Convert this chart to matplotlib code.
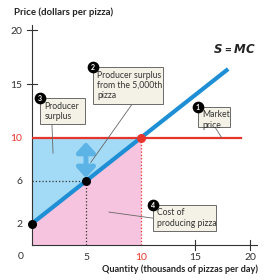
import matplotlib
matplotlib.use("Agg")
import matplotlib.pyplot as plt
import matplotlib.patches as mpatches
import numpy as np

# supply (marginal cost) curve
supply_q = [0, 5, 10, 18]
supply_p = [2, 6, 10, 16.4]
market_price = 10
market_q = 10
marked_q = 5
marked_p = 6

yticks = [2, 6, 15, 20]
xticks = [5, 15, 20]

plt.rcParams['font.family'] = ['Lato', 'DejaVu Sans']

fig = plt.figure(figsize=(2.73, 2.80), dpi=100)
ax = fig.add_axes([32 / 273, 35 / 280, 224.5 / 273, 220 / 280])
ax.set_xlim(0, 20.6)
ax.set_ylim(0, 20.5)

blue_fill = '#a3daf5'
pink_fill = '#f6c4de'
line_blue = '#1e8fd5'
red = '#e8352b'

# shaded areas up to the market quantity
qq = np.array([q for q in supply_q if q <= market_q])
pp = np.array(supply_p[:len(qq)])
ax.fill_between(qq, pp, market_price, color=blue_fill, lw=0, zorder=1)
ax.fill_between(qq, 0, pp, color=pink_fill, lw=0, zorder=1)

# dotted guides
ax.plot([0, marked_q], [marked_p, marked_p], ls=':', color='#333333', lw=0.9, zorder=2)
ax.plot([marked_q, marked_q], [0, marked_p], ls=':', color='#333333', lw=0.9, zorder=2)
ax.plot([market_q, market_q], [0, market_price], ls=':', color=red, lw=0.9, zorder=2)

# market price line
ax.plot([0, 19.2], [market_price, market_price], color=red, lw=1.6, zorder=3)

# supply curve
ax.plot(supply_q, supply_p, color=line_blue, lw=3, solid_capstyle='butt', zorder=4)
ax.text(18.6, 17.7, r'$\mathbfit{S}$ = $\mathbfit{MC}$', fontsize=8.5, fontweight='bold',
        ha='center', va='bottom', color='#222222')

# points
ax.scatter([supply_q[0], marked_q], [supply_p[0], marked_p], s=30, color='black', zorder=6, clip_on=False)
ax.scatter([market_q], [market_price], s=30, color=red, zorder=6)

# producer surplus arrow for the 5,000th pizza
ax.annotate('', xy=(4.95, 6.25), xytext=(4.95, 9.6),
            arrowprops=dict(arrowstyle='<|-|>,head_width=0.55,head_length=0.6',
                            lw=3.5, color='#5cb3e6', shrinkA=0, shrinkB=0), zorder=5)

# label boxes: (left, bottom, right, top, number, text, leader)
boxes = [
    (0.73, 11.26, 4.86, 13.67, '3', 'Producer\nsurplus', [(1.83, 11.26), (1.93, 8.56)]),
    (5.6, 13.1, 12.0, 16.56, '2', 'Producer surplus\nfrom the 5,000th\npizza', [(9.17, 13.1), (5.4, 7.7)]),
    (15.23, 10.98, 18.17, 12.84, '1', 'Market\nprice', [(16.8, 10.98), (17.4, 10.0)]),
    (11.1, 1.3, 16.9, 3.72, '4', 'Cost of\nproducing pizza', [(11.1, 2.5), (7.06, 3.07)]),
]
for left, bottom, right, top, num, txt, leader in boxes:
    (x0, y0), (x1, y1) = leader
    ax.plot([x0, x1], [y0, y1], color='#666666', lw=0.6, zorder=7)
    ax.add_patch(mpatches.Rectangle((left, bottom), right - left, top - bottom,
                                    facecolor='#f4f2e6', edgecolor='#6a6a6a', lw=0.7, zorder=8))
    ax.text(left + 0.4, top - 0.3, txt, fontsize=6.2, va='top', ha='left',
            color='#333333', linespacing=1.2, zorder=9)
    ax.scatter([left], [top], s=55, color='black', zorder=10, clip_on=False)
    ax.text(left, top, num, fontsize=5, color='white', fontweight='bold',
            ha='center', va='center', zorder=11)

# axes styling
for s in ['top', 'right']:
    ax.spines[s].set_visible(False)
ax.spines['left'].set_color('#333333')
ax.spines['bottom'].set_color('#333333')
ax.spines['left'].set_linewidth(0.8)
ax.spines['bottom'].set_linewidth(0.8)

ax.set_yticks(yticks + [market_price])
ax.set_yticklabels([str(v) for v in yticks] + [str(market_price)])
ax.set_xticks(xticks + [market_q])
ax.set_xticklabels([str(v) for v in xticks] + [str(market_q)])
ax.tick_params(axis='y', labelsize=7.5, length=0, pad=7)
ax.tick_params(axis='x', labelsize=7.5, length=0, pad=6)
for lab in ax.get_yticklabels() + ax.get_xticklabels():
    lab.set_color('#333333')
ax.get_yticklabels()[-1].set_color(red)
ax.get_xticklabels()[-1].set_color(red)

# crossing tick marks at 15 and 20
for v in [15, 20]:
    ax.plot([-0.45, 0.45], [v, v], color='#333333', lw=0.8, clip_on=False)
    ax.plot([v, v], [-0.45, 0.45], color='#333333', lw=0.8, clip_on=False)

ax.text(-1.0, -1.1, '0', fontsize=7.5, color='#333333', ha='center', va='center')

fig.text(14 / 273, 1 - 12 / 280, 'Price (dollars per pizza)', fontsize=6.9,
         fontweight='bold', ha='left', va='center', color='#222222')
fig.text(258 / 273, 1 - 269 / 280, 'Quantity (thousands of pizzas per day)', fontsize=6.6,
         fontweight='bold', ha='right', va='center', color='#222222')

fig.savefig('out.png', dpi=100)
